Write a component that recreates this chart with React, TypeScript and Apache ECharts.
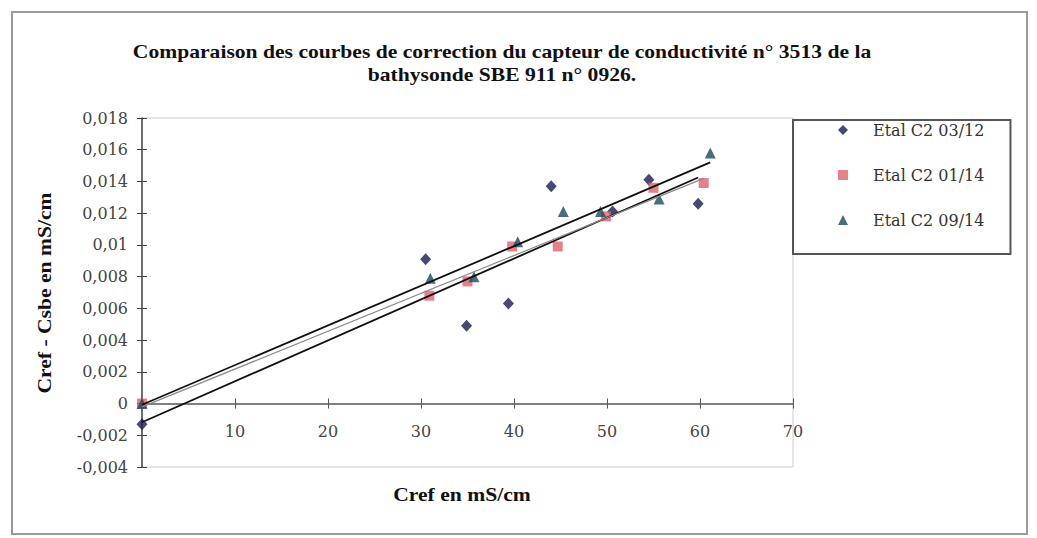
import React, { useEffect, useRef } from "react";
import * as echarts from "echarts";

const titleLines = [
  "Comparaison des courbes de correction du capteur de conductivité n° 3513 de la",
  "bathysonde SBE 911 n° 0926.",
];
const xAxisTitle = "Cref en mS/cm";
const yAxisTitle = "Cref - Csbe en mS/cm";

const seriesNames = ["Etal C2 03/12", "Etal C2 01/14", "Etal C2 09/14"];

const diamondX = [0, 30.5, 34.9, 39.4, 44.0, 50.6, 54.5, 59.8];
const diamondY = [-0.0013, 0.0091, 0.0049, 0.0063, 0.0137, 0.0121, 0.0141, 0.0126];

const squareX = [0, 30.9, 35.0, 39.8, 44.7, 49.9, 55.0, 60.4];
const squareY = [0, 0.0068, 0.0077, 0.0099, 0.0099, 0.0118, 0.0136, 0.0139];

const triX = [0, 31.0, 35.7, 40.4, 45.3, 49.3, 55.6, 61.1];
const triY = [0, 0.0079, 0.008, 0.0102, 0.0121, 0.0121, 0.0129, 0.0158];

const xMin = 0, xMax = 70, xStep = 10;
const yMin = -0.004, yMax = 0.018, yStep = 0.002;

function pairs(xs: number[], ys: number[]) {
  return xs.map((x, i) => [x, ys[i]]);
}

function trend(xs: number[], ys: number[]) {
  const n = xs.length;
  const mx = xs.reduce((a, b) => a + b, 0) / n;
  const my = ys.reduce((a, b) => a + b, 0) / n;
  let sxx = 0, sxy = 0;
  for (let i = 0; i < n; i++) {
    sxx += (xs[i] - mx) * (xs[i] - mx);
    sxy += (xs[i] - mx) * (ys[i] - my);
  }
  const b = sxy / sxx;
  const a = my - b * mx;
  const x0 = Math.min(...xs), x1 = Math.max(...xs);
  return [[x0, a + b * x0], [x1, a + b * x1]];
}

const SERIF = "'Liberation Serif', 'Times New Roman', serif";
const WIDE = "'DejaVu Serif', 'Liberation Serif', serif";

const GRID_TOP = 118;
const GRID_BOTTOM = 71;
const CHART_H = 538;

export default function App() {
  const ref = useRef<HTMLDivElement>(null);
  useEffect(() => {
    if (!ref.current) return;
    const chart = echarts.init(ref.current, null, { renderer: "svg" });
    const colors = ["#1a1a55", "#e0606e", "#1e4a5c"];
    const fmtY = (v: number) => {
      const r = Math.round(v * 1000) / 1000;
      if (Math.abs(r) < 1e-9) return "0";
      return String(parseFloat(r.toFixed(3))).replace(".", ",");
    };
    // distance from grid bottom to the y = 0 line (axis crosses at zero)
    const gridH = CHART_H - GRID_TOP - GRID_BOTTOM;
    const zeroOffset = -gridH * ((0 - yMin) / (yMax - yMin));

    const xBase = {
      type: "value",
      min: xMin,
      max: xMax,
      interval: xStep,
      position: "bottom",
      offset: zeroOffset,
      splitLine: { show: false },
    };
    const yBase = {
      type: "value",
      min: yMin,
      max: yMax,
      interval: yStep,
      position: "left",
      splitLine: { show: false },
    };

    const option: any = {
      animation: false,
      backgroundColor: "#ffffff",
      textStyle: { fontFamily: SERIF },
      grid: {
        left: 142,
        top: GRID_TOP,
        right: 244,
        bottom: GRID_BOTTOM,
        show: true,
        borderColor: "#cccccc",
        borderWidth: 1,
        backgroundColor: "transparent",
      },
      legend: {
        data: seriesNames,
        orient: "vertical",
        left: 793,
        top: 120,
        padding: [2, 26, 26, 45],
        itemGap: 29,
        itemWidth: 10,
        itemHeight: 10,
        borderColor: "#555555",
        borderWidth: 2,
        textStyle: {
          fontFamily: WIDE,
          fontSize: 16,
          lineHeight: 16,
          color: "#333333",
          padding: [0, 0, 0, 20],
        },
      },
      xAxis: [
        {
          ...xBase,
          axisLine: { show: true, onZero: false, lineStyle: { color: "#808080", width: 2 } },
          axisTick: { show: true, inside: false, length: 5, lineStyle: { color: "#555555" } },
          axisLabel: {
            fontFamily: WIDE,
            fontSize: 16,
            color: "#444444",
            margin: 20,
            formatter: (v: number) => (v === 0 ? "" : String(v)),
          },
        },
        {
          ...xBase,
          axisLine: { show: false, onZero: false },
          axisTick: { show: true, inside: true, length: 5, lineStyle: { color: "#555555" } },
          axisLabel: { show: false },
        },
      ],
      yAxis: [
        {
          ...yBase,
          axisLine: { show: true, onZero: false, lineStyle: { color: "#444444", width: 1.5 } },
          axisTick: { show: true, inside: false, length: 5, lineStyle: { color: "#444444" } },
          axisLabel: {
            fontFamily: WIDE,
            fontSize: 16,
            color: "#444444",
            margin: 14,
            formatter: fmtY,
          },
        },
        {
          ...yBase,
          axisLine: { show: false, onZero: false },
          axisTick: { show: true, inside: true, length: 5, lineStyle: { color: "#444444" } },
          axisLabel: { show: false },
        },
      ],
      graphic: [
        {
          type: "rect",
          shape: { x: 12, y: 12, width: 1015, height: 522 },
          style: { fill: "none", stroke: "#9a9a9a", lineWidth: 2 },
          silent: true,
          z: -1,
        },
        {
          type: "text",
          x: 502,
          y: 52,
          scaleX: 1.2,
          style: {
            text: titleLines[0],
            font: `bold 18px ${SERIF}`,
            fill: "#111111",
            textAlign: "center",
            textVerticalAlign: "middle",
          },
        },
        {
          type: "text",
          x: 502,
          y: 75,
          scaleX: 1.2,
          style: {
            text: titleLines[1],
            font: `bold 18px ${SERIF}`,
            fill: "#111111",
            textAlign: "center",
            textVerticalAlign: "middle",
          },
        },
        {
          type: "text",
          x: 462,
          y: 495,
          scaleX: 1.2,
          style: {
            text: xAxisTitle,
            font: `bold 18px ${SERIF}`,
            fill: "#111111",
            textAlign: "center",
            textVerticalAlign: "middle",
          },
        },
        {
          type: "text",
          x: 45,
          y: 293,
          rotation: Math.PI / 2,
          scaleX: 1.2,
          style: {
            text: yAxisTitle,
            font: `bold 18px ${SERIF}`,
            fill: "#111111",
            textAlign: "center",
            textVerticalAlign: "middle",
          },
        },
      ],
      series: [
        {
          name: seriesNames[0],
          type: "scatter",
          symbol: "diamond",
          symbolSize: [11, 12],
          itemStyle: { color: colors[0] },
          data: pairs(diamondX, diamondY),
          z: 2,
        },
        {
          name: seriesNames[1],
          type: "scatter",
          symbol: "rect",
          symbolSize: 10,
          itemStyle: { color: colors[1] },
          data: pairs(squareX, squareY),
          z: 2,
        },
        {
          name: seriesNames[2],
          type: "scatter",
          symbol: "triangle",
          symbolSize: 11,
          itemStyle: { color: colors[2] },
          data: pairs(triX, triY),
          z: 2,
        },
        {
          name: "trend1",
          type: "line",
          data: trend(diamondX, diamondY),
          showSymbol: false,
          symbol: "none",
          lineStyle: { color: "#111111", width: 1.8 },
          silent: true,
          z: 3,
        },
        {
          name: "trend2",
          type: "line",
          data: trend(squareX, squareY),
          showSymbol: false,
          symbol: "none",
          lineStyle: { color: "#8a8a8a", width: 1.2 },
          silent: true,
          z: 3,
        },
        {
          name: "trend3",
          type: "line",
          data: trend(triX, triY),
          showSymbol: false,
          symbol: "none",
          lineStyle: { color: "#111111", width: 1.8 },
          silent: true,
          z: 3,
        },
      ],
    };
    chart.setOption(option);
    return () => chart.dispose();
  }, []);
  return (
    <div
      ref={ref}
      style={{ position: "fixed", left: 0, top: 0, width: 1037, height: 538, background: "#fff" }}
    />
  );
}
